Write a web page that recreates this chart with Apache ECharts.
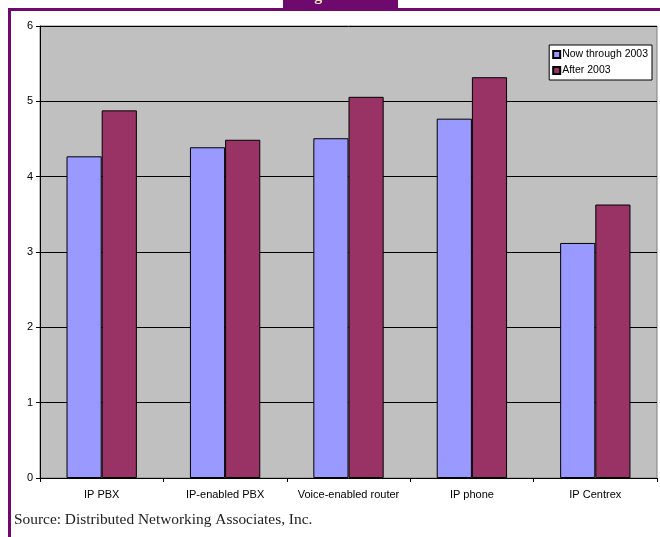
<!DOCTYPE html>
<html>
<head>
<meta charset="utf-8">
<script src="https://cdn.jsdelivr.net/npm/echarts@6/dist/echarts.min.js"></script>
<style>
  html, body { margin: 0; padding: 0; background: #fff; }
  #chart { width: 660px; height: 537px; }
</style>
</head>
<body>
<div id="chart"></div>
<script>
// data
const categories = ['IP PBX', 'IP-enabled PBX', 'Voice-enabled router', 'IP phone', 'IP Centrex'];
const nowThrough2003 = [4.27, 4.39, 4.51, 4.77, 3.12];
const after2003 = [4.88, 4.49, 5.06, 5.32, 3.63];
const seriesNames = ['Now through 2003', 'After 2003'];

const chart = echarts.init(document.getElementById('chart'));

chart.setOption({
  backgroundColor: '#fff',
  animation: false,
  textStyle: { fontFamily: 'Liberation Sans, Arial, sans-serif' },
  grid: {
    left: 40, top: 26, right: 3, bottom: 59,
    show: true,
    backgroundColor: '#c0c0c0',
    borderColor: '#808080',
    borderWidth: 1
  },
  legend: {
    orient: 'vertical',
    right: 8, top: 45,
    backgroundColor: '#fff',
    borderColor: '#000',
    borderWidth: 1,
    padding: [4, 4, 4, 3],
    itemWidth: 7, itemHeight: 7,
    itemGap: 5,
    icon: 'rect',
    textStyle: { fontSize: 10.5, color: '#000', padding: [0, 0, 0, -3] },
    data: seriesNames
  },
  xAxis: {
    type: 'category',
    data: categories,
    axisLine: { lineStyle: { color: '#000', width: 1 } },
    axisTick: { show: true, interval: 0, length: 4, lineStyle: { color: '#000' } },
    axisLabel: { interval: 0, hideOverlap: false, fontSize: 11, color: '#000', margin: 11 }
  },
  yAxis: {
    type: 'value',
    min: 0, max: 6, interval: 1,
    axisLine: { show: true, lineStyle: { color: '#000', width: 1 } },
    axisTick: { show: true, length: 4, lineStyle: { color: '#000' } },
    axisLabel: { fontSize: 11, color: '#000', margin: 7 },
    splitLine: { lineStyle: { color: '#000', width: 1 } }
  },
  series: [
    {
      name: seriesNames[0],
      type: 'bar',
      data: nowThrough2003,
      barGap: '0%',
      barCategoryGap: '43%',
      itemStyle: { color: '#9999ff', borderColor: '#000', borderWidth: 1 }
    },
    {
      name: seriesNames[1],
      type: 'bar',
      data: after2003,
      itemStyle: { color: '#993366', borderColor: '#000', borderWidth: 1 }
    }
  ],
  graphic: [
    // purple frame
    { type: 'rect', shape: { x: 9.5, y: 9.5, width: 700, height: 600 },
      style: { fill: null, stroke: '#6e0a6e', lineWidth: 3 }, z: 100 },
    // title tab, cut off at the top edge
    { type: 'rect', shape: { x: 283, y: 0, width: 115, height: 9 },
      style: { fill: '#6e0a6e' }, z: 100 },
    { type: 'text', left: 300, top: -12, z: 101,
      style: { text: 'Figure 3', fill: '#f3e6b8', font: 'bold 16px Liberation Serif, serif' } },
    // source note
    { type: 'text', left: 14, top: 512, z: 100,
      style: { text: 'Source: Distributed Networking Associates, Inc.', fill: '#222',
        font: '15.4px Liberation Serif, serif' } }
  ]
});
</script>
</body>
</html>
